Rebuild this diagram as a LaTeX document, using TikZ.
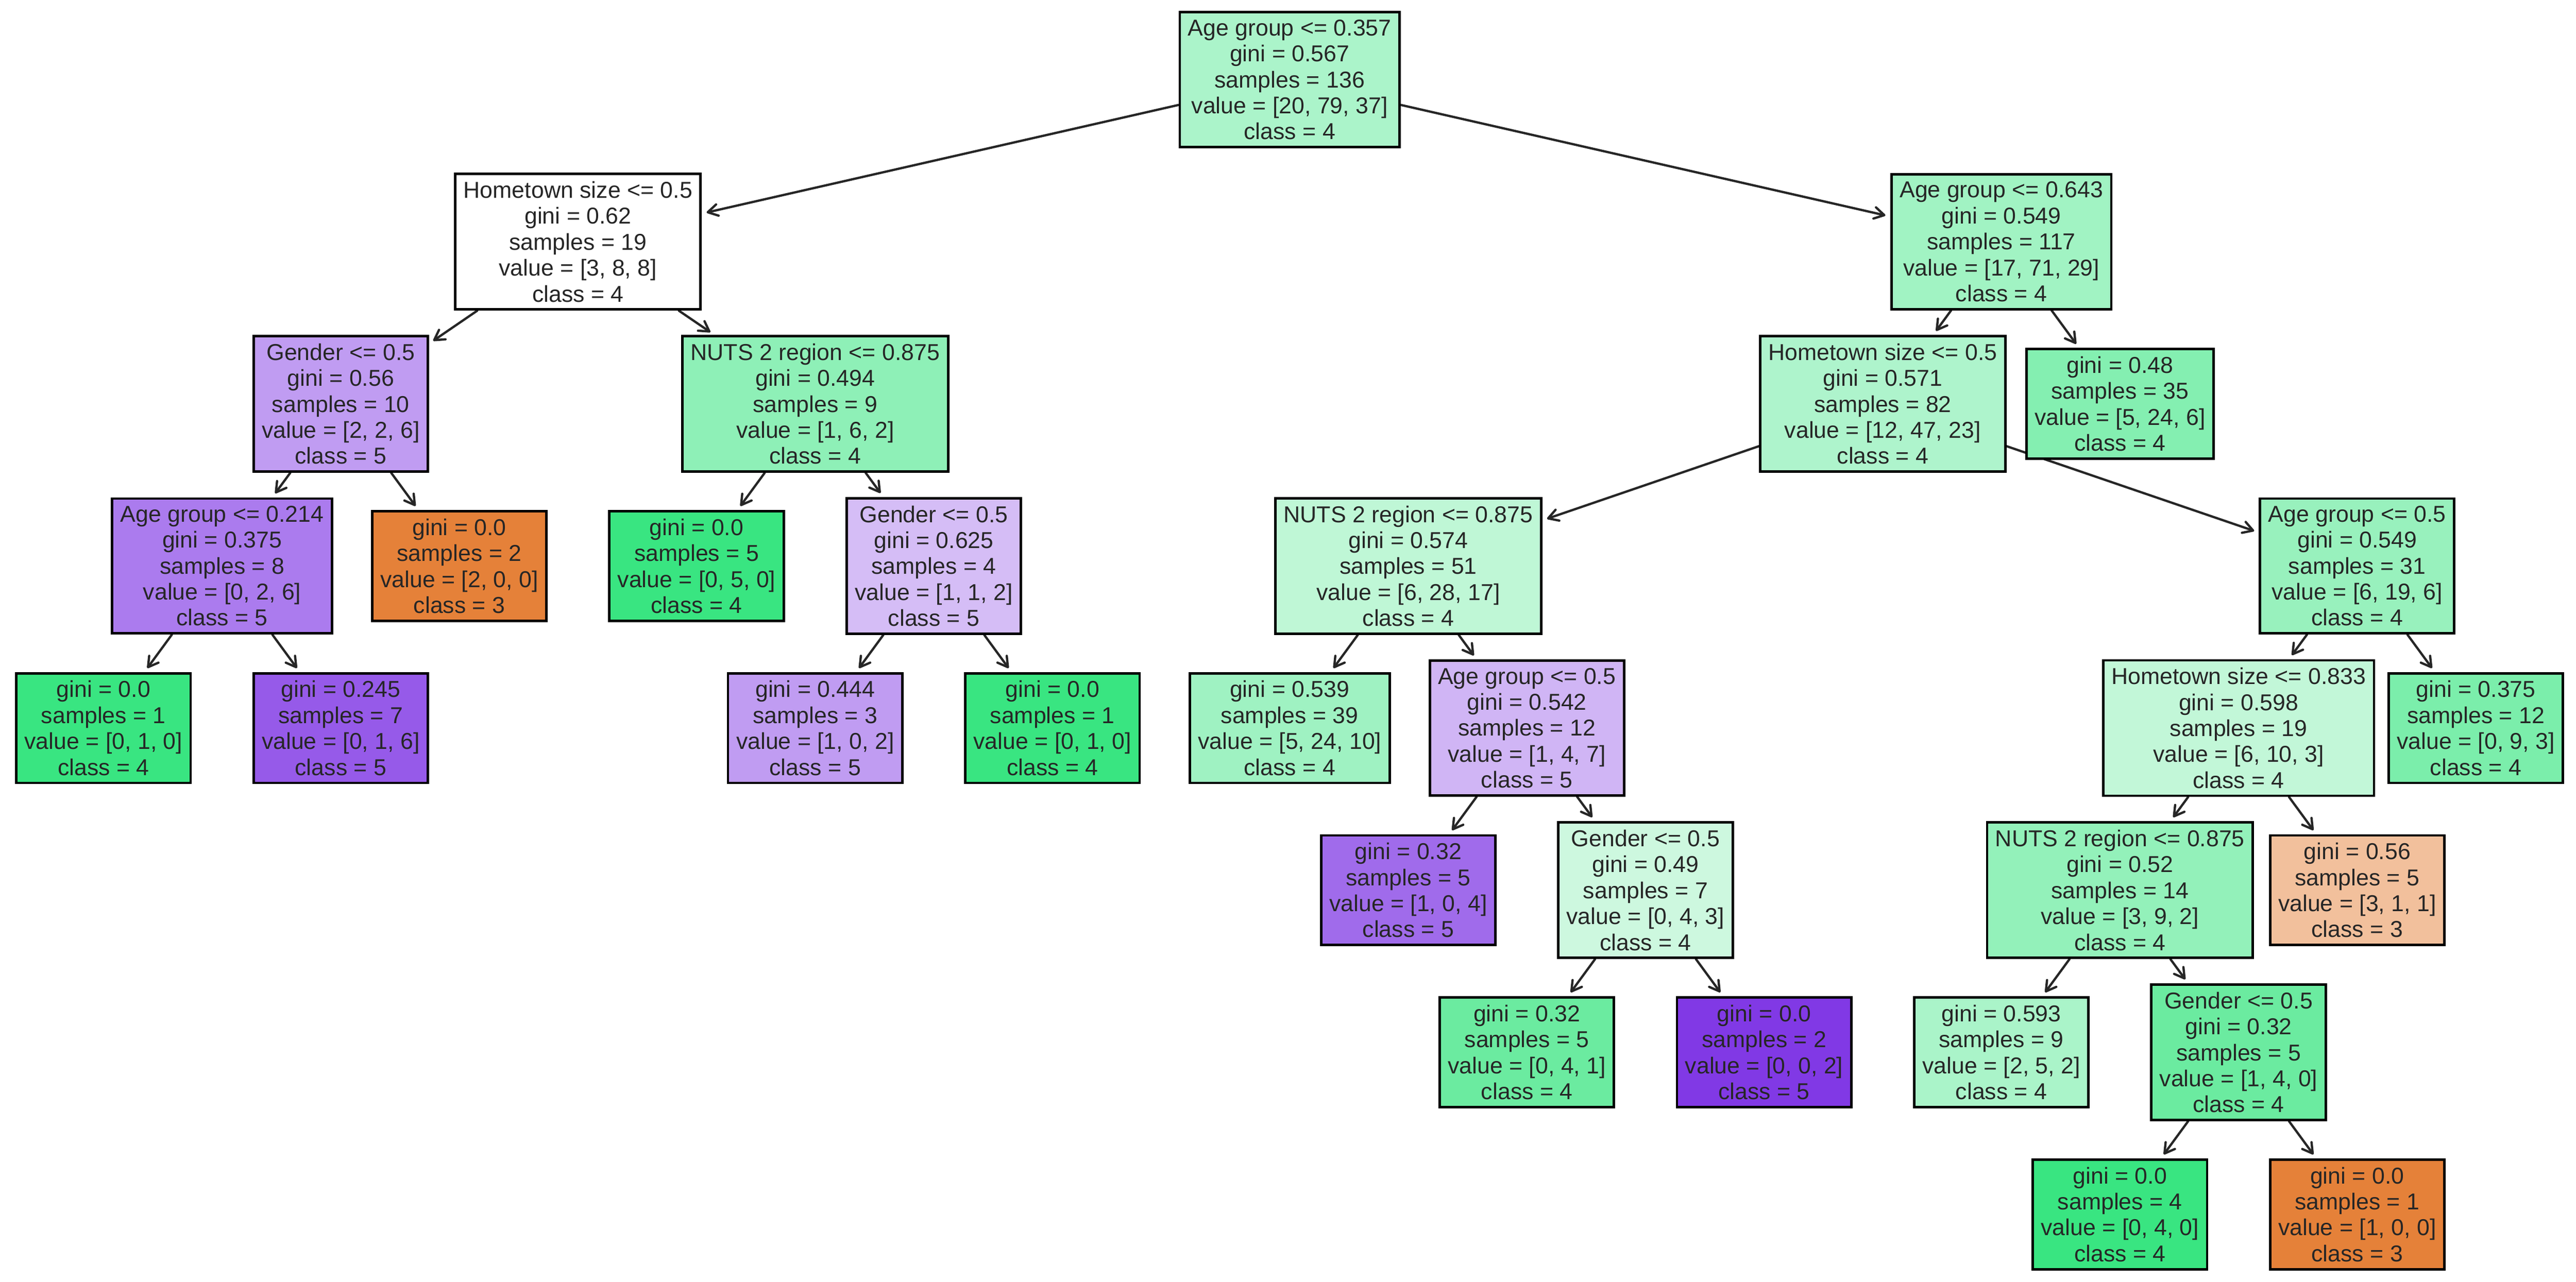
\documentclass[tikz,border=0pt]{standalone}
\usepackage{fontspec}
\setmainfont{Liberation Sans}
\usetikzlibrary{arrows.meta}
\definecolor{cO}{RGB}{229,129,57}
\definecolor{cG}{RGB}{57,229,129}
\definecolor{cP}{RGB}{129,57,229}
\definecolor{txt}{RGB}{38,38,38}
\pgfdeclarelayer{background}
\pgfsetlayers{background,main}
\tikzset{
  tn/.style={draw=black, line width=1.5pt, text=txt, align=center,
    font=\fontsize{14}{15.8}\selectfont, inner xsep=5pt, inner ysep=4.5pt},
  conn/.style={draw=txt, line width=1.4pt, line cap=round,
    -{Straight Barb[length=6pt,width=7pt,line width=1.4pt,round]}, shorten >=3pt}
}
\newcommand{\KX}[1]{63+72.2*#1}
\newcommand{\LY}[1]{48.5+98.7*#1}
\begin{document}
\begin{tikzpicture}[x=1pt,y=-1pt]
\useasboundingbox (0,0) rectangle (1568,780.3);
\node[tn, fill=cG!42.4!white] (n0) at ({\KX{10}},{\LY{0}}) {Age group <= 0.357\\gini = 0.567\\samples = 136\\value = [20, 79, 37]\\class = 4};
\node[tn, fill=white] (n1) at ({\KX{4}},{\LY{1}}) {Hometown size <= 0.5\\gini = 0.62\\samples = 19\\value = [3, 8, 8]\\class = 4};
\node[tn, fill=cG!47.7!white] (n2) at ({\KX{16}},{\LY{1}}) {Age group <= 0.643\\gini = 0.549\\samples = 117\\value = [17, 71, 29]\\class = 4};
\node[tn, fill=cP!50!white] (n3) at ({\KX{2}},{\LY{2}}) {Gender <= 0.5\\gini = 0.56\\samples = 10\\value = [2, 2, 6]\\class = 5};
\node[tn, fill=cG!57.1!white] (n4) at ({\KX{6}},{\LY{2}}) {NUTS 2 region <= 0.875\\gini = 0.494\\samples = 9\\value = [1, 6, 2]\\class = 4};
\node[tn, fill=cP!66.7!white] (n5) at ({\KX{1}},{\LY{3}}) {Age group <= 0.214\\gini = 0.375\\samples = 8\\value = [0, 2, 6]\\class = 5};
\node[tn, fill=cO] (n6) at ({\KX{3}},{\LY{3}}) {gini = 0.0\\samples = 2\\value = [2, 0, 0]\\class = 3};
\node[tn, fill=cG] (n7) at ({\KX{5}},{\LY{3}}) {gini = 0.0\\samples = 5\\value = [0, 5, 0]\\class = 4};
\node[tn, fill=cP!33.3!white] (n8) at ({\KX{7}},{\LY{3}}) {Gender <= 0.5\\gini = 0.625\\samples = 4\\value = [1, 1, 2]\\class = 5};
\node[tn, fill=cG] (n9) at ({\KX{0}},{\LY{4}}) {gini = 0.0\\samples = 1\\value = [0, 1, 0]\\class = 4};
\node[tn, fill=cP!83.3!white] (n10) at ({\KX{2}},{\LY{4}}) {gini = 0.245\\samples = 7\\value = [0, 1, 6]\\class = 5};
\node[tn, fill=cP!50!white] (n11) at ({\KX{6}},{\LY{4}}) {gini = 0.444\\samples = 3\\value = [1, 0, 2]\\class = 5};
\node[tn, fill=cG] (n12) at ({\KX{8}},{\LY{4}}) {gini = 0.0\\samples = 1\\value = [0, 1, 0]\\class = 4};
\node[tn, fill=cG!40.7!white] (n13) at ({\KX{15}},{\LY{2}}) {Hometown size <= 0.5\\gini = 0.571\\samples = 82\\value = [12, 47, 23]\\class = 4};
\node[tn, fill=cG!62.1!white] (n14) at ({\KX{17}},{\LY{2}}) {gini = 0.48\\samples = 35\\value = [5, 24, 6]\\class = 4};
\node[tn, fill=cG!32.4!white] (n15) at ({\KX{11}},{\LY{3}}) {NUTS 2 region <= 0.875\\gini = 0.574\\samples = 51\\value = [6, 28, 17]\\class = 4};
\node[tn, fill=cG!52!white] (n16) at ({\KX{19}},{\LY{3}}) {Age group <= 0.5\\gini = 0.549\\samples = 31\\value = [6, 19, 6]\\class = 4};
\node[tn, fill=cG!48.3!white] (n17) at ({\KX{10}},{\LY{4}}) {gini = 0.539\\samples = 39\\value = [5, 24, 10]\\class = 4};
\node[tn, fill=cP!37.5!white] (n18) at ({\KX{12}},{\LY{4}}) {Age group <= 0.5\\gini = 0.542\\samples = 12\\value = [1, 4, 7]\\class = 5};
\node[tn, fill=cG!30.8!white] (n19) at ({\KX{18}},{\LY{4}}) {Hometown size <= 0.833\\gini = 0.598\\samples = 19\\value = [6, 10, 3]\\class = 4};
\node[tn, fill=cG!66.7!white] (n20) at ({\KX{20}},{\LY{4}}) {gini = 0.375\\samples = 12\\value = [0, 9, 3]\\class = 4};
\node[tn, fill=cP!75!white] (n21) at ({\KX{11}},{\LY{5}}) {gini = 0.32\\samples = 5\\value = [1, 0, 4]\\class = 5};
\node[tn, fill=cG!25!white] (n22) at ({\KX{13}},{\LY{5}}) {Gender <= 0.5\\gini = 0.49\\samples = 7\\value = [0, 4, 3]\\class = 4};
\node[tn, fill=cG!54.5!white] (n23) at ({\KX{17}},{\LY{5}}) {NUTS 2 region <= 0.875\\gini = 0.52\\samples = 14\\value = [3, 9, 2]\\class = 4};
\node[tn, fill=cO!50!white] (n24) at ({\KX{19}},{\LY{5}}) {gini = 0.56\\samples = 5\\value = [3, 1, 1]\\class = 3};
\node[tn, fill=cG!75!white] (n25) at ({\KX{12}},{\LY{6}}) {gini = 0.32\\samples = 5\\value = [0, 4, 1]\\class = 4};
\node[tn, fill=cP] (n26) at ({\KX{14}},{\LY{6}}) {gini = 0.0\\samples = 2\\value = [0, 0, 2]\\class = 5};
\node[tn, fill=cG!42.9!white] (n27) at ({\KX{16}},{\LY{6}}) {gini = 0.593\\samples = 9\\value = [2, 5, 2]\\class = 4};
\node[tn, fill=cG!75!white] (n28) at ({\KX{18}},{\LY{6}}) {Gender <= 0.5\\gini = 0.32\\samples = 5\\value = [1, 4, 0]\\class = 4};
\node[tn, fill=cG] (n29) at ({\KX{17}},{\LY{7}}) {gini = 0.0\\samples = 4\\value = [0, 4, 0]\\class = 4};
\node[tn, fill=cO] (n30) at ({\KX{19}},{\LY{7}}) {gini = 0.0\\samples = 1\\value = [1, 0, 0]\\class = 3};
\begin{pgfonlayer}{background}
\foreach \p/\c in {n0/n1,n0/n2,n1/n3,n1/n4,n3/n5,n3/n6,n5/n9,n5/n10,n4/n7,n4/n8,n8/n11,n8/n12,n2/n13,n2/n14,n13/n15,n13/n16,n15/n17,n15/n18,n18/n21,n18/n22,n22/n25,n22/n26,n16/n19,n16/n20,n19/n23,n19/n24,n23/n27,n23/n28,n28/n29,n28/n30}
  \draw[conn] (\p) -- (\c);
\end{pgfonlayer}
\end{tikzpicture}
\end{document}
